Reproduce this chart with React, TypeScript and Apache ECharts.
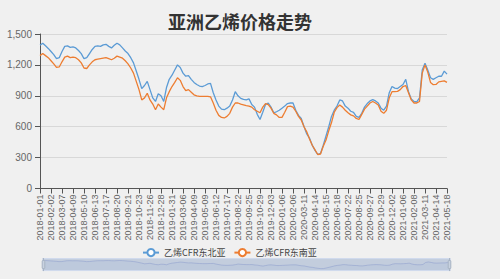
import React, { useEffect, useRef } from "react";
import * as echarts from "echarts";

const title = "亚洲乙烯价格走势";
const seriesNames = ["乙烯CFR东北亚", "乙烯CFR东南亚"];

const labelDates = [
  "2018-01-01", "2018-02-02", "2018-03-07", "2018-04-09", "2018-05-10", "2018-06-13",
  "2018-07-17", "2018-08-20", "2018-09-21", "2018-10-23", "2018-11-26", "2018-12-28",
  "2019-01-31", "2019-03-06", "2019-04-09", "2019-05-09", "2019-06-12", "2019-07-17",
  "2019-08-22", "2019-09-25", "2019-10-29", "2019-12-03", "2020-01-06", "2020-02-06",
  "2020-03-11", "2020-04-14", "2020-05-15", "2020-06-18", "2020-07-22", "2020-08-25",
  "2020-09-27", "2020-10-29", "2020-12-02", "2021-01-06", "2021-02-08", "2021-03-11",
  "2021-04-14", "2021-05-18",
];

// Four samples per labelled interval
const northEastAsia = [
  1390, 1410, 1385, 1360, 1330, 1300, 1260, 1270, 1330, 1380, 1385, 1370, 1375, 1365, 1340, 1310,
  1260, 1270, 1310, 1350, 1380, 1385, 1380, 1395, 1400, 1380, 1365, 1390, 1410, 1395, 1365, 1335,
  1310, 1270, 1220, 1140, 1060, 970, 1000, 1040, 960, 880, 845, 920, 900, 845, 980, 1060,
  1100, 1150, 1200, 1175, 1120, 1090, 1095, 1060, 1030, 1010, 995, 990, 1000, 1015, 1020, 930,
  860, 800, 770, 765, 780, 800, 860, 940, 900, 875, 865, 860, 870, 815, 790, 720,
  670, 740, 815, 830, 790, 735, 745, 760, 780, 800, 825, 830, 830, 760, 710, 680,
  602, 530, 490, 420, 370, 330, 340, 420, 510, 600, 700, 760, 800, 860, 850, 800,
  780, 750, 740, 700, 690, 730, 790, 825, 850, 862, 850, 830, 780, 760, 800, 930,
  990, 975, 970, 990, 1010, 1060, 940, 870, 845, 840, 880, 1150, 1215, 1150, 1075, 1060,
  1075, 1090, 1090, 1140, 1110,
];

const southEastAsia = [
  1290, 1310, 1290, 1270, 1240, 1210, 1175, 1180, 1230, 1275, 1285, 1270, 1275, 1270, 1250, 1220,
  1170, 1165, 1200, 1230, 1250, 1255, 1260, 1265, 1270, 1260, 1250, 1265, 1285, 1275, 1265, 1240,
  1210, 1170, 1120, 1040, 960, 860, 880, 925, 860, 820, 765, 820, 790, 765, 880, 940,
  990, 1030, 1075, 1050, 990, 950, 960, 935, 910, 900, 895, 895, 895, 895, 890, 830,
  760, 710, 690, 685, 700, 730, 790, 830, 830, 820, 813, 805, 800, 790, 765, 750,
  735, 790, 825, 815, 780, 730, 715, 690, 690, 740, 795, 800, 790, 750, 700, 665,
  600, 550, 480, 420, 375, 330, 335, 410, 470, 560, 640, 740, 785, 810, 790, 760,
  735, 715, 705, 680, 670, 720, 770, 800, 830, 845, 830, 810, 750, 730, 760, 880,
  940, 940, 943, 960, 990, 1000, 930, 860, 830, 830, 845, 1120, 1200, 1130, 1030, 1008,
  1010, 1035, 1040, 1045, 1030,
];

const yTicks = { min: 0, max: 1500, interval: 300 };

function buildCategories(): string[] {
  const out: string[] = [];
  labelDates.forEach((d, i) => {
    out.push(d);
    if (i < labelDates.length - 1) out.push("", "", "");
  });
  return out;
}

export default function App() {
  const ref = useRef<HTMLDivElement>(null);
  useEffect(() => {
    document.body.style.margin = "0";
    if (!ref.current) return;
    const chart = echarts.init(ref.current, null, { renderer: "svg" });
    const categories = buildCategories();
    chart.setOption({
      animation: false,
      backgroundColor: "#f0f0f0",
      color: ["#5b9bd5", "#ed7d31"],
      title: {
        text: title,
        left: 163,
        top: 7,
        textStyle: { fontSize: 18, fontWeight: "bold", color: "#333", fontFamily: "Noto Sans CJK SC" },
      },
      legend: {
        data: seriesNames,
        left: 137,
        top: 243,
        itemWidth: 16,
        itemHeight: 9,
        itemGap: 8,
        textStyle: { fontSize: 9, color: "#444", fontFamily: "Noto Sans CJK SC" },
      },
      grid: { left: 40, right: 53, top: 34, bottom: 90.5, containLabel: false },
      xAxis: {
        type: "category",
        boundaryGap: false,
        data: categories,
        axisLine: { lineStyle: { color: "#555" } },
        axisTick: { interval: 3, alignWithLabel: true, lineStyle: { color: "#555" } },
        axisLabel: { interval: 3, rotate: 90, fontSize: 9, color: "#666", margin: 6 },
      },
      yAxis: {
        type: "value",
        min: yTicks.min,
        max: yTicks.max,
        interval: yTicks.interval,
        axisLine: { show: true, lineStyle: { color: "#555" } },
        axisTick: { show: true, lineStyle: { color: "#555" } },
        axisLabel: { fontSize: 10, color: "#666" },
        splitLine: { lineStyle: { color: "#d8d8d8" } },
      },
      dataZoom: [
        {
          type: "slider",
          start: 0,
          end: 100,
          left: 40,
          right: 52,
          bottom: 8,
          height: 13,
          showDetail: false,
          brushSelect: false,
          borderColor: "#d2dbee",
          backgroundColor: "rgba(200,210,225,0.5)",
          fillerColor: "rgba(150,170,200,0.35)",
          dataBackground: {
            lineStyle: { color: "#a8b8cc", width: 0.6 },
            areaStyle: { color: "rgba(170,185,205,0.3)" },
          },
          handleStyle: { color: "#c8d2e0", borderColor: "#a8b4c4" },
          moveHandleSize: 0,
        },
      ],
      series: [
        {
          name: seriesNames[0],
          type: "line",
          data: northEastAsia,
          showSymbol: false,
          lineStyle: { width: 1.3 },
        },
        {
          name: seriesNames[1],
          type: "line",
          data: southEastAsia,
          showSymbol: false,
          lineStyle: { width: 1.3 },
        },
      ],
    });
    return () => chart.dispose();
  }, []);
  return <div ref={ref} style={{ width: 500, height: 279 }} />;
}
